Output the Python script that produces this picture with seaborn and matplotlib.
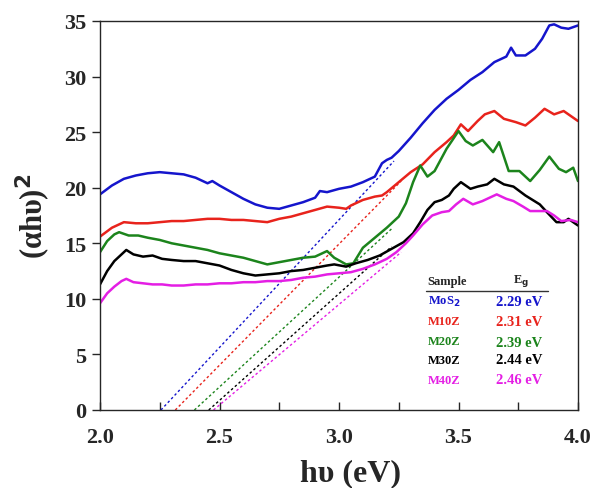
import numpy as np
import pandas as pd
import matplotlib
matplotlib.use("Agg")
import matplotlib.pyplot as plt
from matplotlib.ticker import MultipleLocator
import seaborn as sns

# ---------------- data ----------------
mos2_x = [2.00, 2.05, 2.10, 2.15, 2.20, 2.25, 2.30, 2.35, 2.40, 2.45, 2.47, 2.50, 2.55, 2.60,
          2.65, 2.70, 2.75, 2.80, 2.85, 2.90, 2.92, 2.95, 3.00, 3.05, 3.10, 3.15, 3.18, 3.20,
          3.22, 3.25, 3.30, 3.35, 3.40, 3.45, 3.50, 3.55, 3.60, 3.65, 3.70, 3.72, 3.74, 3.78,
          3.82, 3.85, 3.88, 3.90, 3.93, 3.96, 4.00]
mos2_y = [19.4, 20.2, 20.8, 21.1, 21.3, 21.4, 21.3, 21.2, 20.9, 20.4, 20.6, 20.2, 19.6, 19.0,
          18.5, 18.2, 18.1, 18.4, 18.7, 19.1, 19.7, 19.6, 19.9, 20.1, 20.5, 21.0, 22.2, 22.5,
          22.7, 23.3, 24.5, 25.8, 27.0, 28.0, 28.8, 29.7, 30.4, 31.3, 31.8, 32.6, 31.9, 31.9,
          32.5, 33.4, 34.6, 34.7, 34.4, 34.3, 34.6]

m10z_x = [2.00, 2.05, 2.10, 2.15, 2.20, 2.25, 2.30, 2.35, 2.40, 2.45, 2.50, 2.55, 2.60, 2.65,
          2.70, 2.75, 2.80, 2.85, 2.90, 2.95, 3.00, 3.03, 3.05, 3.10, 3.15, 3.18, 3.20, 3.25,
          3.30, 3.35, 3.40, 3.45, 3.48, 3.51, 3.54, 3.58, 3.61, 3.65, 3.69, 3.74, 3.78, 3.82,
          3.86, 3.90, 3.94, 4.00]
m10z_y = [15.6, 16.4, 16.9, 16.8, 16.8, 16.9, 17.0, 17.0, 17.1, 17.2, 17.2, 17.1, 17.1, 17.0,
          16.9, 17.2, 17.4, 17.7, 18.0, 18.3, 18.2, 18.1, 18.4, 18.9, 19.2, 19.3, 19.6, 20.5,
          21.4, 22.1, 23.2, 24.1, 24.7, 25.7, 25.1, 26.0, 26.6, 26.9, 26.2, 25.9, 25.6, 26.3,
          27.1, 26.6, 26.9, 26.0]

m20z_x = [2.00, 2.03, 2.06, 2.08, 2.12, 2.16, 2.20, 2.25, 2.30, 2.35, 2.40, 2.45, 2.50, 2.55,
          2.60, 2.65, 2.70, 2.75, 2.80, 2.85, 2.90, 2.95, 2.98, 3.03, 3.06, 3.10, 3.15, 3.20,
          3.25, 3.28, 3.31, 3.34, 3.37, 3.40, 3.45, 3.50, 3.53, 3.56, 3.60, 3.645, 3.67, 3.71,
          3.755, 3.80, 3.84, 3.88, 3.92, 3.95, 3.98, 4.00]
m20z_y = [14.2, 15.2, 15.8, 16.0, 15.7, 15.7, 15.5, 15.3, 15.0, 14.8, 14.6, 14.4, 14.1, 13.9,
          13.7, 13.4, 13.1, 13.3, 13.5, 13.7, 13.8, 14.3, 13.7, 13.1, 13.2, 14.6, 15.5, 16.4,
          17.4, 18.6, 20.5, 22.0, 21.0, 21.5, 23.5, 25.1, 24.2, 23.8, 24.3, 23.2, 24.1, 21.5,
          21.5, 20.6, 21.6, 22.8, 21.7, 21.4, 21.8, 20.6]

m30z_x = [2.00, 2.03, 2.06, 2.09, 2.11, 2.14, 2.18, 2.22, 2.26, 2.30, 2.35, 2.40, 2.45, 2.50,
          2.55, 2.60, 2.65, 2.70, 2.75, 2.80, 2.85, 2.90, 2.95, 2.98, 3.03, 3.07, 3.12, 3.17,
          3.22, 3.27, 3.31, 3.34, 3.37, 3.40, 3.43, 3.46, 3.48, 3.51, 3.55, 3.58, 3.62, 3.65,
          3.69, 3.73, 3.78, 3.84, 3.87, 3.91, 3.94, 3.96, 4.00]
m30z_y = [11.3, 12.5, 13.4, 14.0, 14.4, 14.0, 13.8, 13.9, 13.6, 13.5, 13.4, 13.4, 13.2, 13.0,
          12.6, 12.3, 12.1, 12.2, 12.3, 12.5, 12.6, 12.8, 13.0, 13.1, 12.9, 13.2, 13.5, 13.9,
          14.5, 15.1, 15.9, 16.9, 18.0, 18.7, 18.9, 19.3, 19.9, 20.5, 19.9, 20.1, 20.3, 20.8,
          20.3, 20.1, 19.3, 18.5, 17.8, 16.9, 16.9, 17.2, 16.6]

m40z_x = [2.00, 2.03, 2.06, 2.09, 2.11, 2.14, 2.18, 2.22, 2.26, 2.30, 2.35, 2.40, 2.45, 2.50,
          2.55, 2.60, 2.65, 2.70, 2.75, 2.80, 2.85, 2.90, 2.95, 3.00, 3.05, 3.10, 3.15, 3.20,
          3.24, 3.28, 3.31, 3.35, 3.39, 3.43, 3.46, 3.49, 3.52, 3.56, 3.60, 3.63, 3.66, 3.70,
          3.73, 3.77, 3.80, 3.84, 3.87, 3.90, 3.93, 3.97, 4.00]
m40z_y = [9.6, 10.5, 11.1, 11.6, 11.8, 11.5, 11.4, 11.3, 11.3, 11.2, 11.2, 11.3, 11.3, 11.4,
          11.4, 11.5, 11.5, 11.6, 11.6, 11.7, 11.9, 12.0, 12.2, 12.3, 12.4, 12.7, 13.1, 13.6,
          14.2, 15.0, 15.7, 16.7, 17.5, 17.8, 17.9, 18.5, 19.0, 18.5, 18.8, 19.1, 19.4, 19.0,
          18.8, 18.3, 17.9, 17.9, 17.9, 17.5, 17.0, 17.1, 16.9]

samples = ["MoS$_2$", "M10Z", "M20Z", "M30Z", "M40Z"]
eg_labels = ["2.29 eV", "2.31 eV", "2.39 eV", "2.44 eV", "2.46 eV"]
colors = ["#1515cc", "#e8231c", "#1c841c", "#000000", "#e41ee4"]

# tangent (Tauc) lines: x-intercept, end x, end y
tan_x0 = [2.255, 2.315, 2.395, 2.455, 2.475]
tan_x1 = [3.23, 3.26, 3.22, 3.22, 3.26]
tan_y1 = [22.4, 20.6, 16.3, 14.7, 14.2]

series_x = [mos2_x, m10z_x, m20z_x, m30z_x, m40z_x]
series_y = [mos2_y, m10z_y, m20z_y, m30z_y, m40z_y]

# ---------------- plotting ----------------
sns.set_style("ticks")
plt.rcParams["font.family"] = ["Liberation Serif", "DejaVu Serif"]
plt.rcParams["font.weight"] = "bold"

fig = plt.figure(figsize=(6.09, 4.89), dpi=100)
ax = fig.add_axes([100 / 609, 1 - 411 / 489, 478 / 609, 389 / 489])

frames = []
for name, xs, ys in zip(samples, series_x, series_y):
    frames.append(pd.DataFrame({"x": xs, "y": ys, "sample": name}))
df = pd.concat(frames, ignore_index=True)

tframes = []
for name, a, b, c in zip(samples, tan_x0, tan_x1, tan_y1):
    tframes.append(pd.DataFrame({"x": [a, b], "y": [0.0, c], "sample": name}))
tdf = pd.concat(tframes, ignore_index=True)

pal = dict(zip(samples, colors))
sns.lineplot(data=tdf, x="x", y="y", hue="sample", palette=pal, ax=ax,
             linewidth=1.0, linestyle=(0, (1.8, 1.8)), legend=False, sort=False,
             estimator=None)
sns.lineplot(data=df, x="x", y="y", hue="sample", palette=pal, ax=ax,
             linewidth=1.8, legend=False, sort=False, estimator=None)

ax.set_xlim(2.0, 4.0)
ax.set_ylim(0, 35)
ax.xaxis.set_major_locator(MultipleLocator(0.5))
ax.xaxis.set_minor_locator(MultipleLocator(0.25))
ax.yaxis.set_major_locator(MultipleLocator(5))
ax.tick_params(axis="x", which="both", direction="in", length=6, width=1.0,
               labelsize=16, pad=12)
ax.tick_params(axis="y", which="major", direction="out", length=6, width=1.0,
               labelsize=16, pad=4)
for lab in ax.get_xticklabels() + ax.get_yticklabels():
    lab.set_fontweight("bold")
ax.xaxis.set_major_formatter(matplotlib.ticker.FormatStrFormatter("%.1f"))
for sp in ax.spines.values():
    sp.set_visible(True)
    sp.set_linewidth(1.0)

ax.set_xlabel("h\u03c5 (eV)", fontsize=23, fontweight="bold", labelpad=8, x=0.525)
ax.set_ylabel("(\u03b1h\u03c5)$^\\mathbf{2}$", fontsize=22, fontweight="bold", labelpad=8)

# table-like legend
def fx(px):
    return px / 609

def fy(py):
    return 1 - py / 489

fig.text(fx(427), fy(282), "Sample", fontsize=9, fontweight="bold", va="center", ha="left")
fig.text(fx(513), fy(281), "E$_\\mathbf{g}$", fontsize=9, fontweight="bold", va="center", ha="left")
fig.add_artist(plt.Line2D([fx(426), fx(548)], [fy(292), fy(292)], color="#333333", lw=1.0))
row_y = [302, 322, 342, 361, 381]
val_y = [302, 322, 344, 361, 381]
for name, lab, c, yy, vy in zip(samples, eg_labels, colors, row_y, val_y):
    fig.text(fx(428), fy(yy), name, fontsize=9, fontweight="bold", color=c, va="center", ha="left")
    fig.text(fx(496), fy(vy), lab, fontsize=10.5, fontweight="bold", color=c, va="center", ha="left")

fig.savefig("out.png", dpi=100)
